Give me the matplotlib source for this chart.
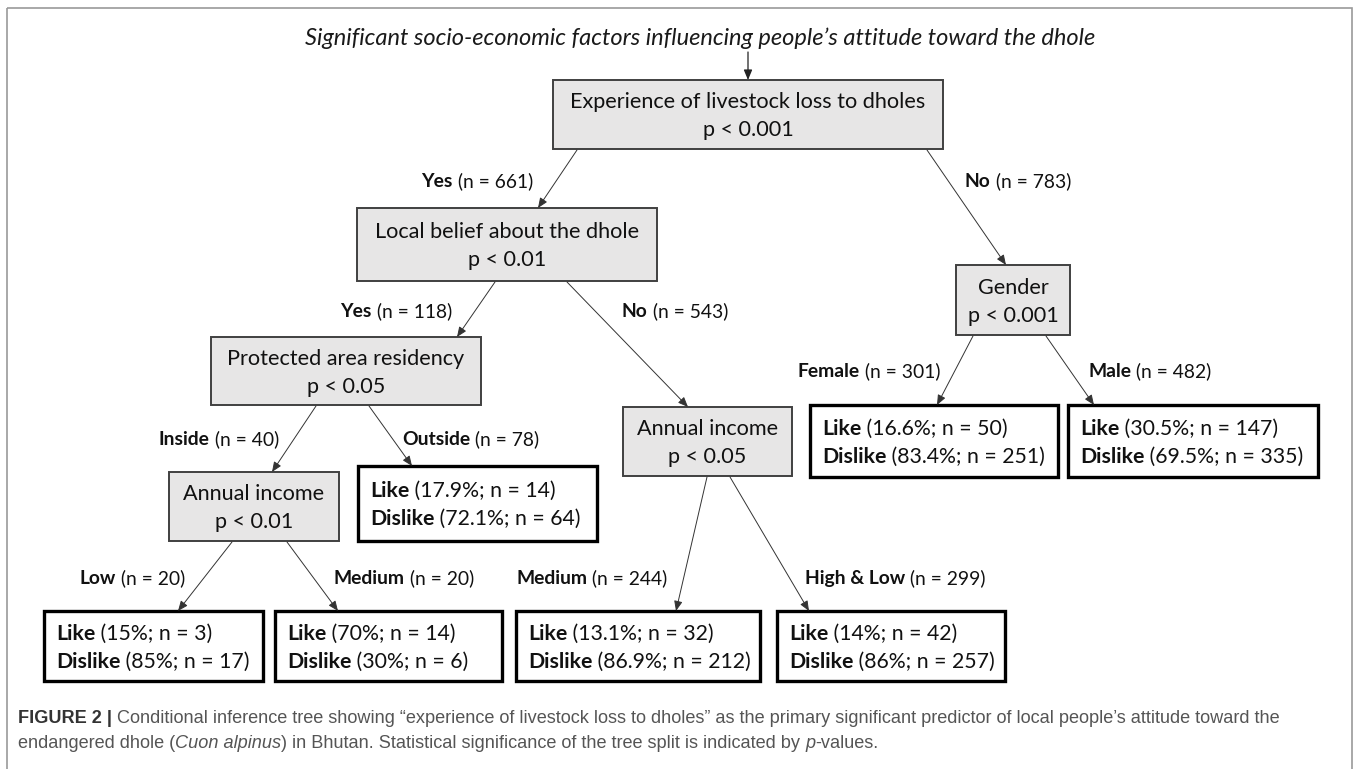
import matplotlib
matplotlib.use("Agg")
import matplotlib.pyplot as plt
from matplotlib.patches import Rectangle

# ---- tree content ----
title = "Significant socio-economic factors influencing people\u2019s attitude toward the dhole"

split_vars = ["Experience of livestock loss to dholes", "Local belief about the dhole", "Gender",
              "Protected area residency", "Annual income", "Annual income"]
split_p = ["0.001", "0.01", "0.001", "0.05", "0.05", "0.01"]

leaf_like_pct = ["17.9%", "16.6%", "30.5%", "15%", "70%", "13.1%", "14%"]
leaf_like_n = [14, 50, 147, 3, 14, 32, 42]
leaf_dislike_pct = ["72.1%", "83.4%", "69.5%", "85%", "30%", "86.9%", "86%"]
leaf_dislike_n = [64, 251, 335, 17, 6, 212, 257]

# parent -> child, branch label and size
edge_parent = ["n0", "n0", "n1", "n1", "n2", "n2", "n3", "n3", "n5", "n5", "n4", "n4"]
edge_child = ["n1", "n2", "n3", "n4", "l1", "l2", "n5", "l0", "l3", "l4", "l5", "l6"]
branch_names = ["Yes", "No", "Yes", "No", "Female", "Male", "Inside", "Outside",
                "Low", "Medium", "Medium", "High & Low"]
branch_n = [661, 783, 118, 543, 301, 482, 40, 78, 20, 20, 244, 299]

caption1 = [("FIGURE 2 |", "bold", "normal"),
            (" Conditional inference tree showing \u201cexperience of livestock loss to dholes\u201d as the primary "
             "significant predictor of local people\u2019s attitude toward the", "normal", "normal")]
caption2 = [("endangered dhole (", "normal", "normal"), ("Cuon alpinus", "normal", "italic"),
            (") in Bhutan. Statistical significance of the tree split is indicated by ", "normal", "normal"),
            ("p", "normal", "italic"), ("-values.", "normal", "normal")]

# ---- layout (pixels, y down) ----
boxes = {
    "n0": (553, 80, 943, 149), "n1": (357, 208, 657, 281), "n2": (956, 265, 1070, 335),
    "n3": (211, 337, 481, 405), "n4": (623, 407, 792, 476), "n5": (169, 472, 339, 541),
    "l0": (358, 466, 597, 541), "l1": (810, 405, 1058, 477), "l2": (1068, 405, 1318, 477),
    "l3": (44, 611, 263, 681), "l4": (275, 611, 502, 681), "l5": (516, 611, 760, 681),
    "l6": (777, 611, 1005, 681),
}
edge_x = [(577, 538), (927, 1006), (495, 457), (567, 688), (973, 937), (1046, 1094),
          (316, 272), (369, 412), (232, 178), (287, 338), (707, 676), (730, 809)]
label_pos = [(477, 180), (1018, 180), (396, 310), (675, 310), (869, 370), (1150, 370),
             (219, 438), (471, 438), (132, 577), (404, 577), (592, 577), (895, 577)]

FONT = ["Lato", "DejaVu Sans"]
CAP_FONT = ["Liberation Sans Narrow", "Liberation Sans", "DejaVu Sans"]

fig = plt.figure(figsize=(13.58, 7.69), dpi=100)
ax = fig.add_axes([0, 0, 1, 1])
ax.set_xlim(0, 1358)
ax.set_ylim(769, 0)
ax.axis("off")
renderer = fig.canvas.get_renderer()


def width(s, **kw):
    t = ax.text(0, 0, s, **kw)
    w = t.get_window_extent(renderer).width
    t.remove()
    return w


def runs_width(parts, size, family):
    return sum(width(s, fontsize=size, fontweight=fw, fontstyle=st, family=family) for s, fw, st in parts)


def fit(parts, target, family):
    return 10 * target / runs_width(parts, 10, family)


def draw_runs(x, y, parts, size, family, ha="left", color="black", colors=None):
    total = runs_width(parts, size, family)
    cx = x - total / 2 if ha == "center" else x
    base = y + 0.36 * size * 100 / 72
    for i, (s, fw, st) in enumerate(parts):
        c = colors[i] if colors else color
        ax.text(cx, base, s, fontsize=size, fontweight=fw, fontstyle=st, family=family,
                ha="left", va="baseline", color=c)
        cx += width(s, fontsize=size, fontweight=fw, fontstyle=st, family=family)


box_fs = fit([(split_vars[0], "normal", "normal")], 356, FONT)
leaf_fs = fit([("Dislike", "bold", "normal"), (" (85%; n = 17)", "normal", "normal")], 194, FONT)
lab_fs = fit([("Female", "bold", "normal"), (" (n = 301)", "normal", "normal")], 143, FONT)
title_fs = fit([(title, "normal", "italic")], 790, FONT)
cap_fs = fit(caption1, 1272, CAP_FONT)

# outer frame
ax.add_patch(Rectangle((7, 8), 1345, 770, fill=False, edgecolor="#9a9a9a", lw=1.2, clip_on=False))

# title and its arrow
draw_runs(700, 37, [(title, "normal", "italic")], title_fs, FONT, ha="center", color="#1a1a1a")
ax.annotate("", xy=(748, 80), xytext=(748, 52),
            arrowprops=dict(arrowstyle="-|>,head_length=0.6,head_width=0.25", color="#222222",
                            lw=0.9, shrinkA=0, shrinkB=0))

# internal nodes
for i, (var, p) in enumerate(zip(split_vars, split_p)):
    x0, y0, x1, y1 = boxes["n%d" % i]
    ax.add_patch(Rectangle((x0, y0), x1 - x0, y1 - y0, facecolor="#e7e6e6", edgecolor="#404040", lw=1.4))
    cx, cy = (x0 + x1) / 2, (y0 + y1) / 2
    draw_runs(cx, cy - 14, [(var, "normal", "normal")], box_fs, FONT, ha="center", color="#111111")
    draw_runs(cx, cy + 14, [("p < " + p, "normal", "normal")], box_fs, FONT, ha="center", color="#111111")

# leaves
for i in range(len(leaf_like_pct)):
    x0, y0, x1, y1 = boxes["l%d" % i]
    ax.add_patch(Rectangle((x0, y0), x1 - x0, y1 - y0, facecolor="white", edgecolor="black", lw=2.4))
    cy = (y0 + y1) / 2
    draw_runs(x0 + 12, cy - 14, [("Like", "bold", "normal"),
                                 (" (%s; n = %d)" % (leaf_like_pct[i], leaf_like_n[i]), "normal", "normal")],
              leaf_fs, FONT, color="#111111")
    draw_runs(x0 + 12, cy + 14, [("Dislike", "bold", "normal"),
                                 (" (%s; n = %d)" % (leaf_dislike_pct[i], leaf_dislike_n[i]), "normal", "normal")],
              leaf_fs, FONT, color="#111111")

# branches
for i in range(len(edge_parent)):
    p, c = boxes[edge_parent[i]], boxes[edge_child[i]]
    xs, xe = edge_x[i]
    ax.annotate("", xy=(xe, c[1]), xytext=(xs, p[3] + 1),
                arrowprops=dict(arrowstyle="-|>,head_length=0.6,head_width=0.25", color="#333333",
                                lw=0.7, shrinkA=0, shrinkB=0))
    lx, ly = label_pos[i]
    draw_runs(lx, ly, [(branch_names[i], "bold", "normal"), (" (n = %d)" % branch_n[i], "normal", "normal")],
              lab_fs, FONT, ha="center", color="#111111")

# caption
draw_runs(18, 716, caption1, cap_fs, CAP_FONT, colors=["#333333", "#555555"])
draw_runs(18, 741, caption2, cap_fs, CAP_FONT, color="#555555")

fig.savefig("out.png", dpi=100)
